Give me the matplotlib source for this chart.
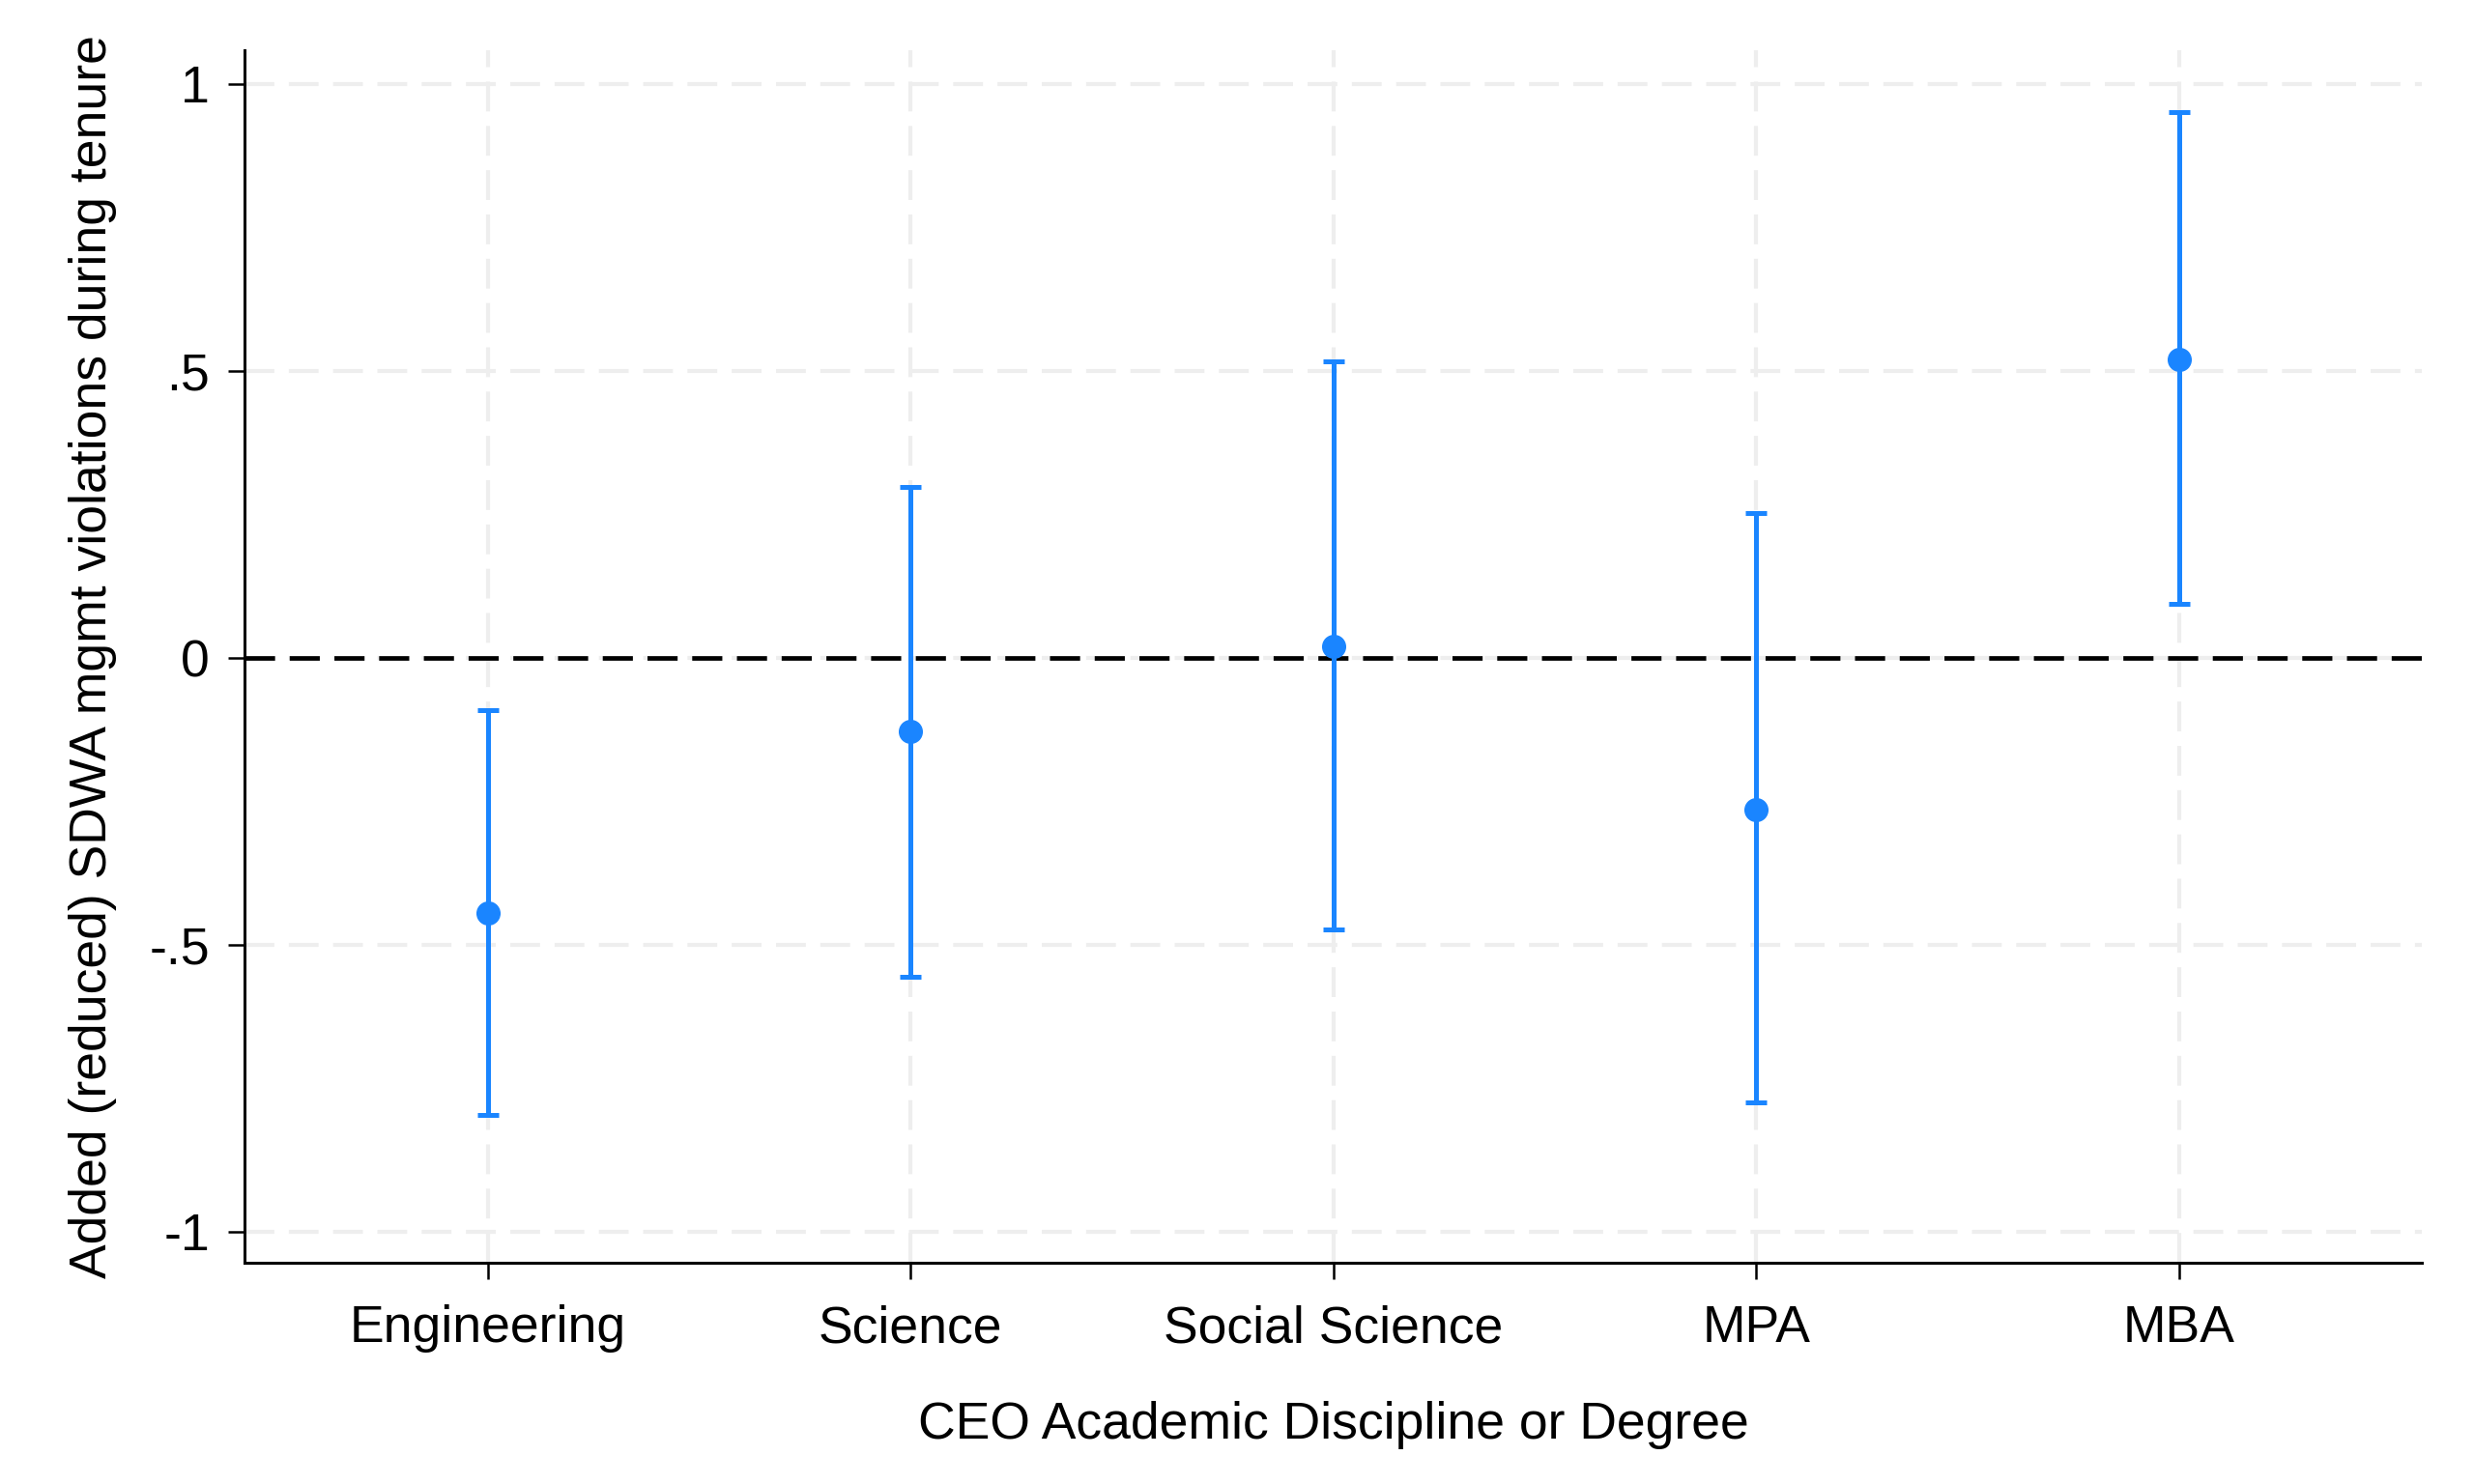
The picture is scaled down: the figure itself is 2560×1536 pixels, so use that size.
import matplotlib
matplotlib.use("Agg")
from matplotlib import pyplot as plt
import numpy as np

# estimates
categories = ["Engineering", "Science", "Social Science", "MPA", "MBA"]
coef = [-0.445, -0.129, 0.020, -0.264, 0.520]
ci_low = [-0.797, -0.556, -0.474, -0.775, 0.093]
ci_high = [-0.092, 0.298, 0.516, 0.252, 0.950]
yticks = [-1, -0.5, 0, 0.5, 1]
ytick_labels = ["-1", "-.5", "0", ".5", "1"]

plt.rcParams["font.family"] = ["Liberation Sans", "DejaVu Sans"]

blue = "#1A85FF"
grid_col = "#EEEEEE"

fig = plt.figure(figsize=(25.6, 15.36), dpi=100)
ax = fig.add_axes([0.0989, 0.1488, 0.8801, 0.8172])

x = np.arange(1, len(categories) + 1)
coef = np.array(coef)
err = [coef - np.array(ci_low), np.array(ci_high) - coef]

# grid (dash pattern ~31px on / 15px off)
for yv in yticks:
    ax.axhline(yv, color=grid_col, lw=3, dashes=(7.4, 3.6), zorder=0)
for xv in x:
    ax.axvline(xv, color=grid_col, lw=3, dashes=(7.4, 3.6), zorder=0)

ax.axhline(0, color="black", lw=3.4, dashes=(6.6, 3.2), zorder=1)

ax.errorbar(x, coef, yerr=err, fmt="o", color=blue, ecolor=blue,
            elinewidth=3.6, capsize=8, capthick=3.6, markersize=17, zorder=3)

ax.set_xlim(0.425, 5.575)
ax.set_ylim(-1.055, 1.058)
ax.set_xticks(x)
ax.set_xticklabels(categories)
ax.set_yticks(yticks)
ax.set_yticklabels(ytick_labels)

for s in ["top", "right"]:
    ax.spines[s].set_visible(False)
for s in ["left", "bottom"]:
    ax.spines[s].set_linewidth(2.2)

ax.tick_params(axis="both", direction="out", length=12, width=1.8,
               labelsize=38.5, pad=14)
ax.tick_params(axis="x", pad=19)

ax.set_xlabel("CEO Academic Discipline or Degree", fontsize=38.5, labelpad=36)
ax.set_ylabel("Added (reduced) SDWA mgmt violations during tenure",
              fontsize=38.5, labelpad=24)

fig.savefig("out.png", dpi=100)
